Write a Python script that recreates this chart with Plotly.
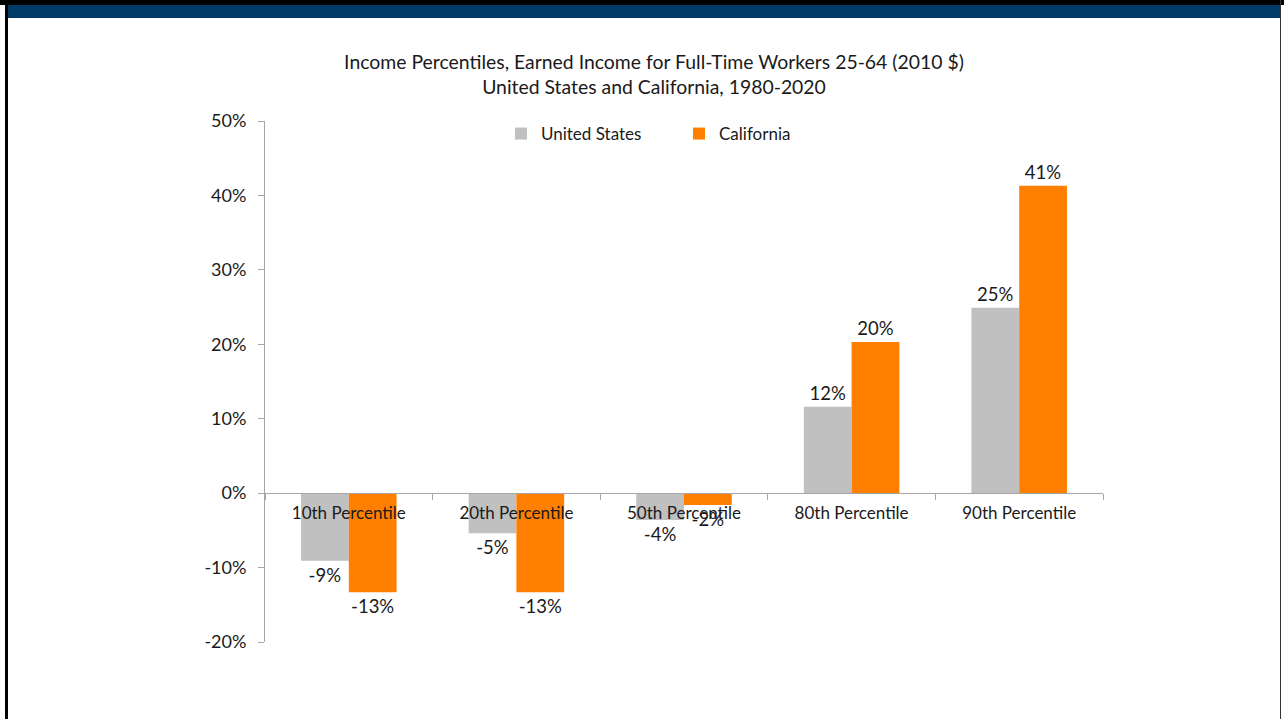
import plotly.graph_objects as go

categories = ["10th Percentile", "20th Percentile", "50th Percentile", "80th Percentile", "90th Percentile"]
us_values = [-0.091, -0.054, -0.036, 0.116, 0.249]
ca_values = [-0.133, -0.133, -0.016, 0.203, 0.413]
y_ticks = [-0.2, -0.1, 0, 0.1, 0.2, 0.3, 0.4, 0.5]
y_tick_labels = ["-20%", "-10%", "0%", "10%", "20%", "30%", "40%", "50%"]

W, H = 1284, 719
L, R, T, B = 265, 181, 121, 77
PW, PH = W - L - R, H - T - B
ymin, ymax = -0.2, 0.5

def px(x):
    return (x - L) / PW

def py(y):
    return (H - B - y) / PH

FONT = "Lato"
TXT = "#1a1a1a"

fig = go.Figure()
fig.add_trace(go.Bar(
    x=categories, y=us_values, name="United States",
    marker=dict(color="#C0C0C0", line=dict(width=0)),
    texttemplate="%{y:.0%}", textposition="outside",
    textfont=dict(size=18.5, color=TXT, family=FONT),
    cliponaxis=False,
))
fig.add_trace(go.Bar(
    x=categories, y=ca_values, name="California",
    marker=dict(color="#FF8000", line=dict(width=0)),
    texttemplate="%{y:.0%}", textposition="outside",
    textfont=dict(size=18.5, color=TXT, family=FONT),
    cliponaxis=False,
))

shapes = [
    dict(type="rect", xref="paper", yref="paper", x0=px(0), x1=px(W), y0=py(5), y1=py(0),
         fillcolor="#000000", line=dict(width=0), layer="above"),
    dict(type="rect", xref="paper", yref="paper", x0=px(8), x1=px(1281), y0=py(18), y1=py(5),
         fillcolor="#003A66", line=dict(width=0), layer="above"),
    dict(type="rect", xref="paper", yref="paper", x0=px(5), x1=px(8), y0=py(H), y1=py(0),
         fillcolor="#000000", line=dict(width=0), layer="above"),
    dict(type="rect", xref="paper", yref="paper", x0=px(1280), x1=px(1281), y0=py(H), y1=py(0),
         fillcolor="#333333", line=dict(width=0), layer="above"),
]

fig.update_layout(
    width=W, height=H,
    margin=dict(l=L, r=R, t=T, b=B, pad=0),
    paper_bgcolor="white", plot_bgcolor="white",
    barmode="group", bargap=0.43, bargroupgap=0,
    font=dict(family=FONT, size=17, color=TXT),
    title=dict(
        text="Income Percentiles, Earned Income for Full-Time Workers 25-64 (2010 $)<br>United States and California, 1980-2020",
        x=px(654), xref="paper", xanchor="center",
        y=1 - 69 / H, yanchor="middle",
        font=dict(size=19.4, family=FONT, color=TXT),
    ),
    legend=dict(
        orientation="h", x=px(501), y=py(134), xanchor="left", yanchor="middle",
        font=dict(size=17, family=FONT, color=TXT),
        bgcolor="rgba(0,0,0,0)", entrywidth=133, entrywidthmode="pixels",
        itemwidth=30, traceorder="normal",
    ),
    xaxis=dict(
        anchor="free", position=(0 - ymin) / (ymax - ymin),
        showline=True, linecolor="#A6A6A6", linewidth=1,
        ticks="outside", ticklen=6, tickcolor="#A6A6A6", tickson="boundaries",
        showgrid=False, zeroline=False,
        tickfont=dict(size=17, family=FONT, color=TXT),
        ticklabelstandoff=4,
        layer="above traces",
    ),
    yaxis=dict(
        range=[ymin, ymax], tickvals=y_ticks, ticktext=y_tick_labels,
        showline=True, linecolor="#A6A6A6", linewidth=1,
        ticks="outside", ticklen=6, tickcolor="#A6A6A6",
        showgrid=False, zeroline=False,
        tickfont=dict(size=18, family=FONT, color=TXT),
        ticklabelstandoff=8,
    ),
    shapes=shapes,
    showlegend=True,
)

fig.write_html(
    "out.html",
    config={"displayModeBar": False},
    post_script="document.body.style.margin='0px';document.body.style.padding='0px';",
)
